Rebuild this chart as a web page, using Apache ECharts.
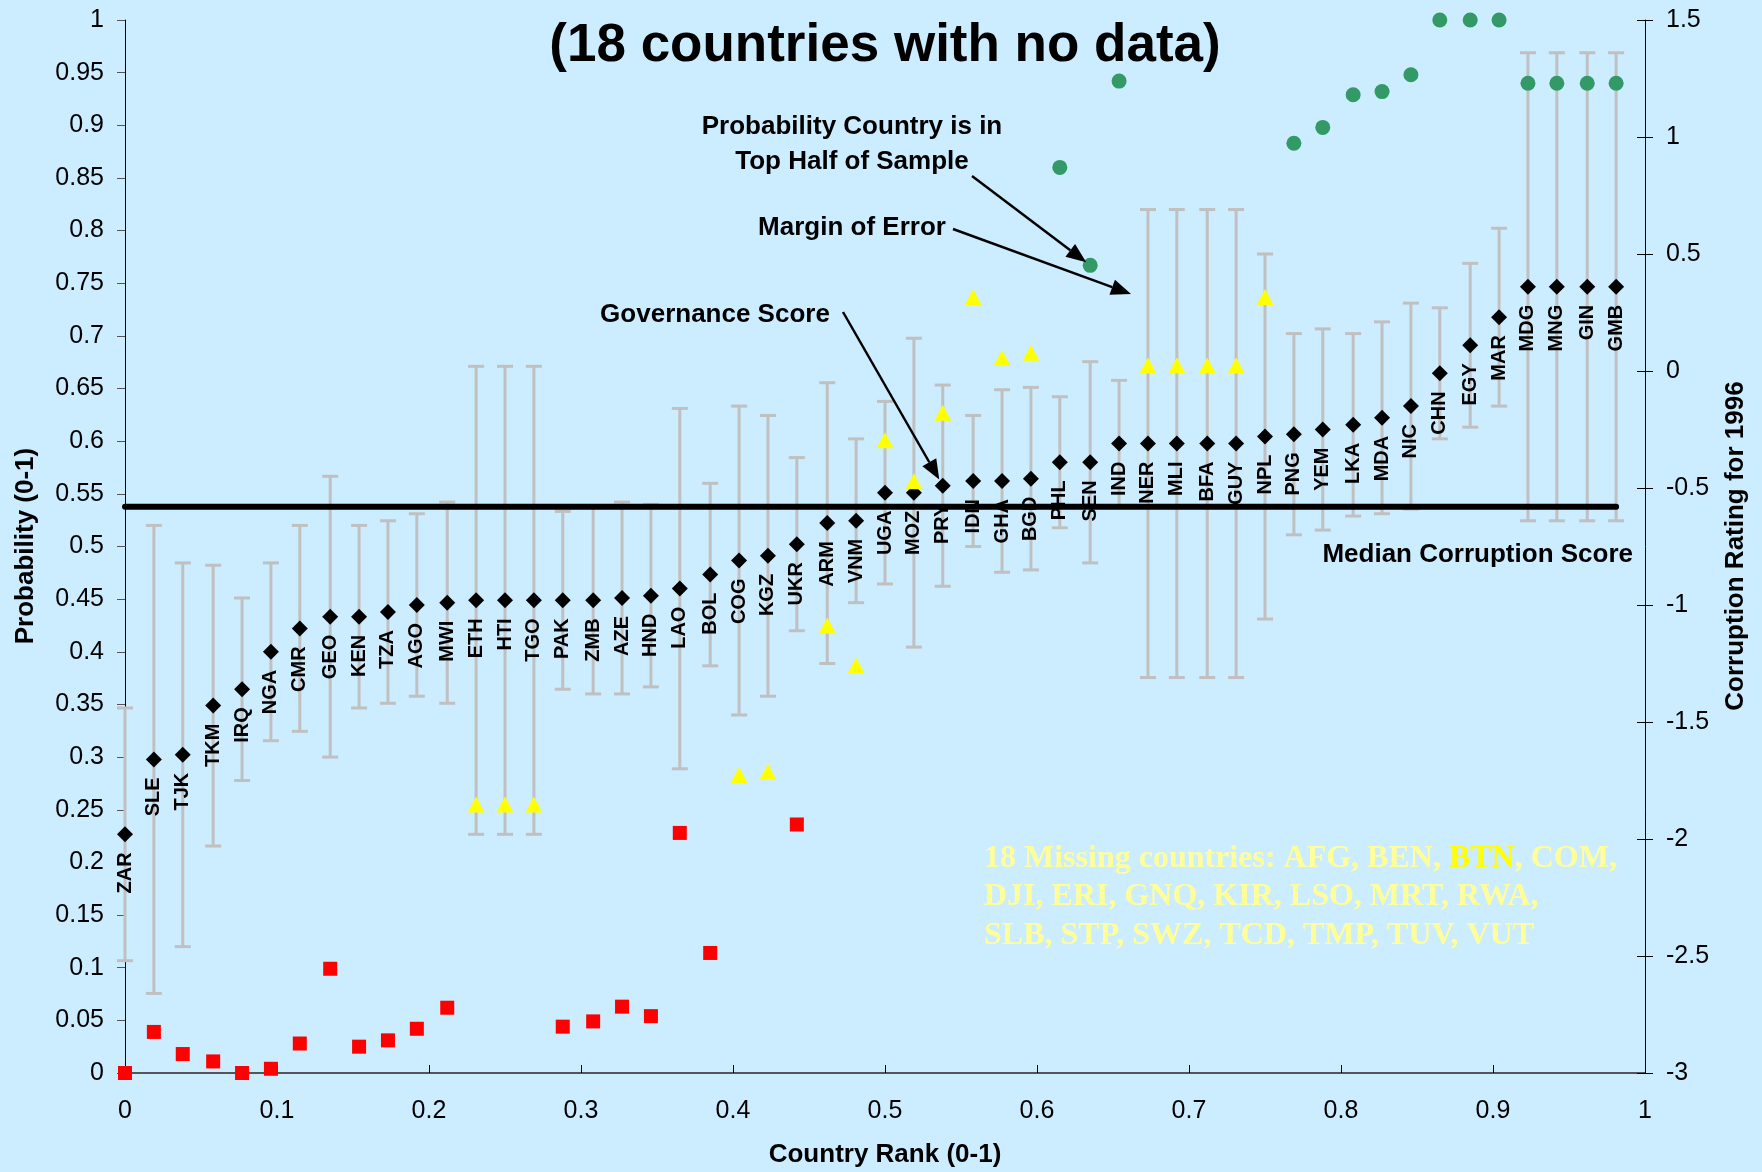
<!DOCTYPE html>
<html>
<head>
<meta charset="utf-8">
<script src="https://cdn.jsdelivr.net/npm/echarts@6/dist/echarts.min.js"></script>
<style>
  html, body { margin: 0; padding: 0; background: #CCECFF; }
  #chart { width: 1762px; height: 1172px; }
</style>
</head>
<body>
<div id="chart"></div>
<script>
// Countries ordered by governance score (lowest first)
const countries = ['ZAR','SLE','TJK','TKM','IRQ','NGA','CMR','GEO','KEN','TZA','AGO','MWI','ETH','HTI','TGO','PAK','ZMB',
  'AZE','HND','LAO','BOL','COG','KGZ','UKR','ARM','VNM','UGA','MOZ','PRY','IDN','GHA','BGD','PHL','SEN','IND','NER','MLI',
  'BFA','GUY','NPL','PNG','YEM','LKA','MDA','NIC','CHN','EGY','MAR','MDG','MNG','GIN','GMB'];

// Country rank (0-1)
const countryRank = [0.000,0.019,0.038,0.058,0.077,0.096,0.115,0.135,0.154,0.173,0.192,0.212,0.231,0.250,0.269,0.288,0.308,
  0.327,0.346,0.365,0.385,0.404,0.423,0.442,0.462,0.481,0.500,0.519,0.538,0.558,0.577,0.596,0.615,0.635,0.654,0.673,0.692,
  0.712,0.731,0.750,0.769,0.788,0.808,0.827,0.846,0.865,0.885,0.904,0.923,0.942,0.962,0.981];

// Governance score: corruption rating for 1996 (right axis)
const governanceScore = [-1.98,-1.66,-1.64,-1.43,-1.36,-1.20,-1.10,-1.05,-1.05,-1.03,-1.00,-0.99,-0.98,-0.98,-0.98,-0.98,-0.98,
  -0.97,-0.96,-0.93,-0.87,-0.81,-0.79,-0.74,-0.65,-0.64,-0.52,-0.52,-0.49,-0.47,-0.47,-0.46,-0.39,-0.39,-0.31,-0.31,-0.31,
  -0.31,-0.31,-0.28,-0.27,-0.25,-0.23,-0.20,-0.15,-0.01,0.11,0.23,0.36,0.36,0.36,0.36];

// Margin of error around each governance score (right axis units)
const marginOfError = [0.54,1.00,0.82,0.60,0.39,0.38,0.44,0.60,0.39,0.39,0.39,0.43,1.00,1.00,1.00,0.38,0.40,
  0.41,0.39,0.77,0.39,0.66,0.60,0.37,0.60,0.35,0.39,0.66,0.43,0.28,0.39,0.39,0.28,0.43,0.27,1.00,1.00,
  1.00,1.00,0.78,0.43,0.43,0.39,0.41,0.44,0.28,0.35,0.38,1.00,1.00,1.00,1.00];

// Probability that the country is in the top half of the sample (left axis)
const probTopHalf = [0.000,0.039,0.018,0.011,0.000,0.004,0.028,0.099,0.025,0.031,0.042,0.062,0.255,0.255,0.255,0.044,0.049,
  0.063,0.054,0.228,0.114,0.283,0.286,0.236,0.425,0.387,0.601,0.562,0.627,0.737,0.679,0.684,0.860,0.767,0.942,0.672,0.672,
  0.672,0.672,0.737,0.883,0.898,0.929,0.932,0.948,1.000,1.000,1.000,0.940,0.940,0.940,0.940];

// Median corruption score (right axis)
const medianScore = -0.58;

// Axis ticks
const rankTicks = { min: 0, max: 1, interval: 0.1 };
const probTicks = { min: 0, max: 1, interval: 0.05 };
const ratingTicks = { min: -3, max: 1.5, interval: 0.5 };

const missingCountries = ['AFG','BEN','BTN','COM','DJI','ERI','GNQ','KIR','LSO','MRT','RWA','SLB','STP','SWZ','TCD','TMP','TUV','VUT'];

const SANS = '"Liberation Sans", Arial, sans-serif';
const SERIF = '"Liberation Serif", "Times New Roman", serif';

const chart = echarts.init(document.getElementById('chart'), null, { renderer: 'canvas' });

const lowProb = [], midProb = [], highProb = [];
probTopHalf.forEach((p, i) => {
  const pt = [countryRank[i], p];
  if (p < 0.25) lowProb.push(pt);
  else if (p < 0.75) midProb.push(pt);
  else highProb.push(pt);
});

const tickLabel = { color: '#000', fontFamily: SANS, fontSize: 25 };

const option = {
  animation: false,
  backgroundColor: '#CCECFF',
  grid: { left: 125, right: 117, top: 20, bottom: 99, containLabel: false },
  xAxis: {
    type: 'value', ...rankTicks,
    axisLine: { show: true, onZero: false, lineStyle: { color: '#555', width: 2 } },
    axisTick: { show: true, inside: true, length: 8, lineStyle: { color: '#000', width: 1 } },
    axisLabel: { ...tickLabel, margin: 26 },
    splitLine: { show: false }
  },
  yAxis: [
    {
      type: 'value', position: 'left', ...probTicks,
      axisLine: { show: true, lineStyle: { color: '#000', width: 1 } },
      axisTick: { show: true, inside: false, length: 8, lineStyle: { color: '#555', width: 1 } },
      axisLabel: { ...tickLabel, margin: 21 },
      splitLine: { show: false }
    },
    {
      type: 'value', position: 'right', ...ratingTicks,
      axisLine: { show: true, lineStyle: { color: '#000', width: 1 } },
      axisTick: { show: true, inside: false, length: 8, lineStyle: { color: '#000', width: 1 } },
      axisLabel: { ...tickLabel, margin: 21 },
      splitLine: { show: false }
    },
    {
      // inner half of the crossing ticks on the rating axis
      type: 'value', position: 'right', ...ratingTicks,
      axisLine: { show: false },
      axisTick: { show: true, inside: true, length: 8, lineStyle: { color: '#000', width: 1 } },
      axisLabel: { show: false },
      splitLine: { show: false }
    }
  ],
  series: [
    {
      name: 'Margin of Error',
      type: 'custom',
      xAxisIndex: 0, yAxisIndex: 1, z: 1,
      data: countries.map((c, i) => [countryRank[i], governanceScore[i] - marginOfError[i], governanceScore[i] + marginOfError[i]]),
      encode: { x: 0, y: [1, 2] },
      renderItem(params, api) {
        const x = api.value(0);
        const lo = api.coord([x, api.value(1)]);
        const hi = api.coord([x, api.value(2)]);
        const w = 8;
        const style = { stroke: '#C0C0C0', lineWidth: 3 };
        return {
          type: 'group',
          children: [
            { type: 'line', shape: { x1: lo[0], y1: lo[1], x2: hi[0], y2: hi[1] }, style },
            { type: 'line', shape: { x1: lo[0] - w, y1: lo[1], x2: lo[0] + w, y2: lo[1] }, style },
            { type: 'line', shape: { x1: hi[0] - w, y1: hi[1], x2: hi[0] + w, y2: hi[1] }, style }
          ]
        };
      }
    },
    {
      name: 'Governance Score',
      type: 'scatter',
      xAxisIndex: 0, yAxisIndex: 1, z: 3,
      symbol: 'diamond', symbolSize: [16, 16],
      itemStyle: { color: '#000', opacity: 1 },
      data: countries.map((c, i) => ({ value: [countryRank[i], governanceScore[i]], name: c })),
      label: {
        show: true, formatter: '{b}', position: 'bottom', distance: 10,
        rotate: 90, align: 'right', verticalAlign: 'middle',
        color: '#000', fontFamily: SANS, fontWeight: 'bold', fontSize: 20
      }
    },
    {
      name: 'Low probability',
      type: 'scatter', xAxisIndex: 0, yAxisIndex: 0, z: 4,
      symbol: 'rect', symbolSize: 14,
      itemStyle: { color: '#FF0000', opacity: 1 },
      data: lowProb
    },
    {
      name: 'Middle probability',
      type: 'scatter', xAxisIndex: 0, yAxisIndex: 0, z: 4,
      symbol: 'triangle', symbolSize: [17, 16],
      itemStyle: { color: '#FFFF00', opacity: 1 },
      data: midProb
    },
    {
      name: 'High probability',
      type: 'scatter', xAxisIndex: 0, yAxisIndex: 0, z: 4,
      symbol: 'circle', symbolSize: 15,
      itemStyle: { color: '#339966', opacity: 1 },
      data: highProb
    },
    {
      name: 'Median Corruption Score',
      type: 'line', xAxisIndex: 0, yAxisIndex: 1, z: 6,
      symbol: 'none',
      lineStyle: { color: '#000', width: 6, cap: 'round' },
      data: [[countryRank[0], medianScore], [countryRank[countryRank.length - 1], medianScore]]
    }
  ]
};

chart.setOption(option);

// annotation arrows
function arrow(from, to) {
  const dx = to[0] - from[0], dy = to[1] - from[1];
  const len = Math.hypot(dx, dy);
  const ux = dx / len, uy = dy / len;
  const head = 20, half = 8;
  const bx = to[0] - ux * head, by = to[1] - uy * head;
  return [
    { type: 'line', z: 20, shape: { x1: from[0], y1: from[1], x2: bx, y2: by }, style: { stroke: '#000', lineWidth: 2.5 } },
    { type: 'polygon', z: 20, shape: { points: [to, [bx - uy * half, by + ux * half], [bx + uy * half, by - ux * half]] }, style: { fill: '#000' } }
  ];
}
function pullBack(from, pt, d) {
  const dx = pt[0] - from[0], dy = pt[1] - from[1];
  const len = Math.hypot(dx, dy);
  return [pt[0] - dx / len * d, pt[1] - dy / len * d];
}

const iPRY = countries.indexOf('PRY');
const iSEN = countries.indexOf('SEN');
const pryPx = chart.convertToPixel({ xAxisIndex: 0, yAxisIndex: 1 }, [countryRank[iPRY], governanceScore[iPRY]]);
const senPx = chart.convertToPixel({ xAxisIndex: 0, yAxisIndex: 0 }, [countryRank[iSEN], probTopHalf[iSEN]]);

const govFrom = [843, 312];
const probFrom = [972, 176];
const marginFrom = [953, 229];

const boldText = (text, x, y, align, extra) => ({
  type: 'text', x, y, z: 20,
  style: Object.assign({ text, fill: '#000', font: 'bold 26px ' + SANS, align, verticalAlign: 'middle' }, extra || {})
});

const missingLines = [
  '18 Missing countries: ' + missingCountries.slice(0, 4).join(', ') + ',',
  missingCountries.slice(4, 11).join(', ') + ',',
  missingCountries.slice(11).join(', ')
];
const richMissing = missingLines.map(l => l.split('BTN').map(s => s ? '{a|' + s + '}' : '').join('{b|BTN}')).join('\n');

chart.setOption({
  graphic: [
    {
      type: 'text', x: 885, y: 46, z: 20,
      style: { text: '(18 countries with no data)', fill: '#000', font: 'bold 53px ' + SANS, align: 'center', verticalAlign: 'middle' }
    },
    boldText('Probability Country is in\nTop Half of Sample', 852, 144, 'center', { lineHeight: 35 }),
    boldText('Margin of Error', 852, 228, 'center'),
    boldText('Governance Score', 715, 315, 'center'),
    boldText('Median Corruption Score', 1633, 555, 'right'),
    boldText('Country Rank (0-1)', 885, 1155, 'center'),
    Object.assign(boldText('Probability (0-1)', 26, 546, 'center'), { rotation: Math.PI / 2 }),
    Object.assign(boldText('Corruption Rating for 1996', 1736, 546, 'center'), { rotation: Math.PI / 2 }),
    ...arrow(govFrom, pullBack(govFrom, pryPx, 7)),
    ...arrow(probFrom, pullBack(probFrom, senPx, 5)),
    ...arrow(marginFrom, [1131, 294]),
    {
      type: 'text', x: 984, y: 839, z: 20,
      style: {
        text: richMissing,
        align: 'left', verticalAlign: 'top',
        rich: {
          a: { fill: '#FFFF99', font: 'bold 32px ' + SERIF, lineHeight: 38.5 },
          b: { fill: '#FFFF00', font: 'bold 32px ' + SERIF, lineHeight: 38.5 }
        }
      }
    }
  ]
});
</script>
</body>
</html>
